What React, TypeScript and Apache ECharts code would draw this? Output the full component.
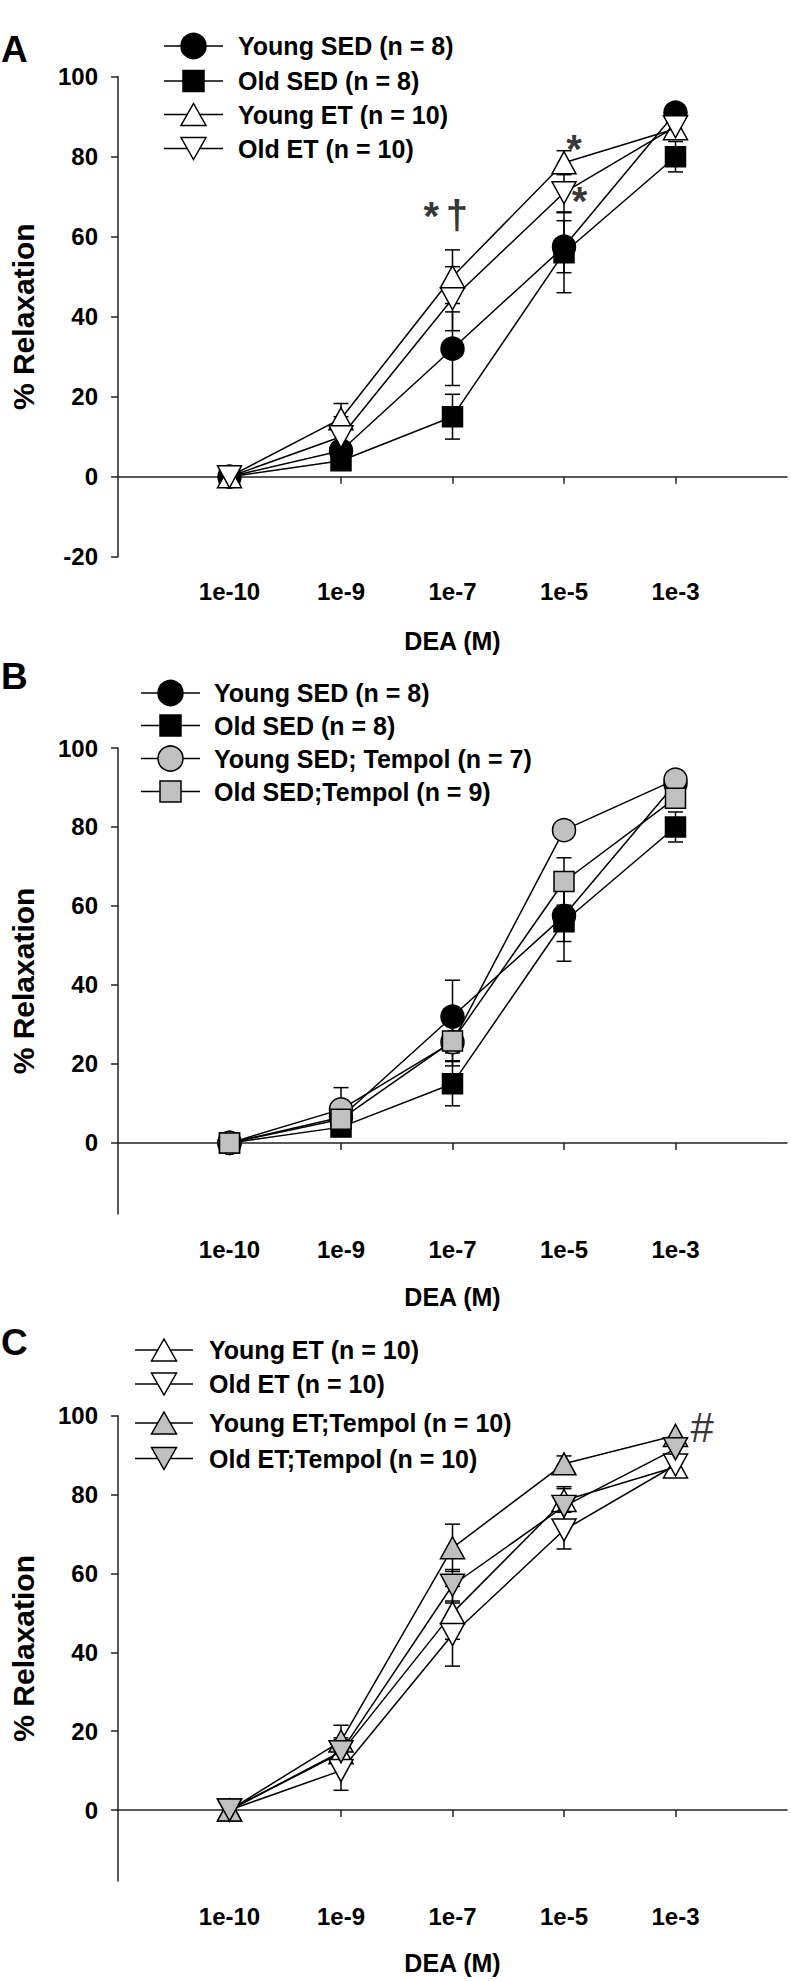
import React, { useEffect, useRef } from "react";
import * as echarts from "echarts";

// ---------- data ----------
const xLabels = ["1e-10", "1e-9", "1e-7", "1e-5", "1e-3"];
const xPositions = [1, 2, 3, 4, 5];
const yTicksA = [-20, 0, 20, 40, 60, 80, 100];
const yTicksBC = [0, 20, 40, 60, 80, 100];

const youngSED = [0, 6.5, 32, 57.5, 91];
const youngSEDErr = [0.8, 2, 9.2, 6.5, 2];
const oldSED = [0, 4, 15, 56, 80];
const oldSEDErr = [0.8, 1.5, 5.6, 10, 3.8];
const youngET = [0, 14.5, 50, 78.5, 87];
const youngETErr = [0.8, 3.8, 6.7, 3, 2.5];
const oldET = [0, 10, 44.5, 71, 87.5];
const oldETErr = [0.8, 5, 8, 4.8, 2.5];
const youngSEDTempol = [0, 8.5, 25.5, 79.2, 92];
const youngSEDTempolErr = [0.8, 5.5, 6, 0, 0];
const oldSEDTempol = [0, 6, 25.8, 66.2, 87.3];
const oldSEDTempolErr = [0.8, 2, 5, 6, 2.5];
const youngETTempol = [0, 17.5, 66.5, 87.8, 95];
const youngETTempolErr = [0.8, 4, 6, 2, 0];
const oldETTempol = [0, 14.8, 57, 77, 91.6];
const oldETTempolErr = [0.8, 3, 4, 5, 1.5];

const annotationsA = [
  { x: 2.81, y: 67.5, text: "*" },
  { x: 3.04, y: 64.7, text: "†" },
  { x: 4.09, y: 84.2, text: "*" },
  { x: 4.14, y: 71.3, text: "*" },
];
const annotationsC = [{ x: 5.24, y: 96.9, text: "#" }];

// ---------- styles ----------
const FONT = '"Liberation Sans", Arial, Helvetica, sans-serif';
const GRAY = "#c0c0c0";

type SeriesDef = {
  name: string;
  values: number[];
  errs: number[];
  symbol: "circle" | "rect" | "up" | "down";
  fill: string;
};

const panels: { letter: string; series: SeriesDef[] }[] = [
  {
    letter: "A",
    series: [
      { name: "Young SED (n = 8)", values: youngSED, errs: youngSEDErr, symbol: "circle", fill: "#000" },
      { name: "Old SED (n = 8)", values: oldSED, errs: oldSEDErr, symbol: "rect", fill: "#000" },
      { name: "Young ET (n = 10)", values: youngET, errs: youngETErr, symbol: "up", fill: "#fff" },
      { name: "Old ET (n = 10)", values: oldET, errs: oldETErr, symbol: "down", fill: "#fff" },
    ],
  },
  {
    letter: "B",
    series: [
      { name: "Young SED (n = 8)", values: youngSED, errs: youngSEDErr, symbol: "circle", fill: "#000" },
      { name: "Old SED (n = 8)", values: oldSED, errs: oldSEDErr, symbol: "rect", fill: "#000" },
      { name: "Young SED; Tempol (n = 7)", values: youngSEDTempol, errs: youngSEDTempolErr, symbol: "circle", fill: GRAY },
      { name: "Old SED;Tempol (n = 9)", values: oldSEDTempol, errs: oldSEDTempolErr, symbol: "rect", fill: GRAY },
    ],
  },
  {
    letter: "C",
    series: [
      { name: "Young ET (n = 10)", values: youngET, errs: youngETErr, symbol: "up", fill: "#fff" },
      { name: "Old ET (n = 10)", values: oldET, errs: oldETErr, symbol: "down", fill: "#fff" },
      { name: "Young ET;Tempol (n = 10)", values: youngETTempol, errs: youngETTempolErr, symbol: "up", fill: GRAY },
      { name: "Old ET;Tempol (n = 10)", values: oldETTempol, errs: oldETTempolErr, symbol: "down", fill: GRAY },
    ],
  },
];

// layout (pixels)
const grids = [
  { left: 118, top: 76.7, width: 669, height: 480 },
  { left: 118, top: 748, width: 669, height: 466 },
  { left: 118, top: 1415.7, width: 669, height: 465.3 },
];
const yMins = [-20, -18, -18];
const xNameGaps = [72, 70, 69];
const letterY = [49, 676.5, 1342.5];
const legendLayout = [
  { rows: [46, 81, 114.5, 148.5], x1: 164, x2: 223, cx: 193.5, tx: 238 },
  { rows: [693, 725.5, 758.5, 791.5], x1: 141, x2: 200, cx: 170.5, tx: 214 },
  { rows: [1350, 1384, 1423, 1458.5], x1: 135, x2: 193, cx: 164, tx: 209 },
];

function echartsSymbol(s: SeriesDef["symbol"]) {
  if (s === "circle") return { symbol: "circle", symbolSize: 23, symbolRotate: 0 };
  if (s === "rect") return { symbol: "rect", symbolSize: 20, symbolRotate: 0 };
  if (s === "up") return { symbol: "triangle", symbolSize: [24, 22], symbolRotate: 0 };
  return { symbol: "triangle", symbolSize: [24, 22], symbolRotate: 180 };
}

function legendMarker(s: SeriesDef["symbol"], cx: number, cy: number, fill: string) {
  const style = { fill, stroke: "#000", lineWidth: 1.5 };
  if (s === "circle") return { type: "circle", shape: { cx, cy, r: 12.5 }, style, z: 10 };
  if (s === "rect") return { type: "rect", shape: { x: cx - 10.5, y: cy - 10.5, width: 21, height: 21 }, style, z: 10 };
  if (s === "up")
    return {
      type: "polygon",
      shape: { points: [[cx, cy - 11], [cx + 12.5, cy + 11], [cx - 12.5, cy + 11]] },
      style,
      z: 10,
    };
  return {
    type: "polygon",
    shape: { points: [[cx, cy + 11], [cx + 12.5, cy - 11], [cx - 12.5, cy - 11]] },
    style,
    z: 10,
  };
}

function annotationOffset(t: string) {
  if (t === "*") return [0, 9];
  if (t === "†") return [0, -3];
  return [0, 0];
}

export default function App() {
  const ref = useRef<HTMLDivElement>(null);

  useEffect(() => {
    document.body.style.margin = "0";
    if (!ref.current) return;
    const chart = echarts.init(ref.current, undefined, { renderer: "svg" });

    const xAxis: any[] = [];
    const yAxis: any[] = [];
    const series: any[] = [];
    const graphic: any[] = [];

    panels.forEach((p, i) => {
      xAxis.push({
        type: "value",
        gridIndex: i,
        min: 0,
        max: 6,
        interval: 1,
        name: "DEA (M)",
        nameLocation: "middle",
        nameGap: xNameGaps[i],
        nameTextStyle: { fontFamily: FONT, fontWeight: "bold", fontSize: 25, color: "#000" },
        axisLine: { show: true, lineStyle: { color: "#222", width: 1.5 } },
        axisTick: {
          show: true,
          inside: false,
          length: 7,
          customValues: xPositions,
          lineStyle: { color: "#222", width: 1.5 },
        },
        axisLabel: {
          show: true,
          margin: 23,
          customValues: xPositions,
          formatter: (v: number) => xLabels[xPositions.indexOf(v)] ?? "",
          fontFamily: FONT,
          fontWeight: "bold",
          fontSize: 24,
          color: "#000",
        },
        splitLine: { show: false },
      });
      const yTicks = i === 0 ? yTicksA : yTicksBC;
      yAxis.push({
        type: "value",
        gridIndex: i,
        min: yMins[i],
        max: 100,
        name: "% Relaxation",
        nameLocation: "middle",
        nameGap: 80,
        nameTextStyle: { fontFamily: FONT, fontWeight: "bold", fontSize: 30, color: "#000" },
        axisLine: { show: true, lineStyle: { color: "#222", width: 1.5 } },
        axisTick: {
          show: true,
          inside: false,
          length: 7,
          customValues: yTicks,
          lineStyle: { color: "#222", width: 1.5 },
        },
        axisLabel: {
          show: true,
          margin: 20,
          customValues: yTicks,
          fontFamily: FONT,
          fontWeight: "bold",
          fontSize: 24,
          color: "#000",
        },
        splitLine: { show: false },
      });

      // error bars
      p.series.forEach((s, k) => {
        series.push({
          type: "custom",
          xAxisIndex: i,
          yAxisIndex: i,
          silent: true,
          z: 2 + k * 0.01,
          data: xPositions.map((x, j) => [x, s.values[j], s.errs[j]]),
          encode: { x: 0, y: 1 },
          renderItem: (params: any, api: any) => {
            const x = api.value(0);
            const y = api.value(1);
            const e = api.value(2);
            if (!e) return { type: "group", children: [] };
            const top = api.coord([x, y + e]);
            const bot = api.coord([x, y - e]);
            const hw = 7.5;
            const st = { stroke: "#000", lineWidth: 1.5 };
            return {
              type: "group",
              children: [
                { type: "line", shape: { x1: top[0], y1: top[1], x2: bot[0], y2: bot[1] }, style: st },
                { type: "line", shape: { x1: top[0] - hw, y1: top[1], x2: top[0] + hw, y2: top[1] }, style: st },
                { type: "line", shape: { x1: bot[0] - hw, y1: bot[1], x2: bot[0] + hw, y2: bot[1] }, style: st },
              ],
            };
          },
        });
      });

      // lines + markers
      p.series.forEach((s, k) => {
        const sym = echartsSymbol(s.symbol);
        series.push({
          type: "line",
          name: s.name,
          xAxisIndex: i,
          yAxisIndex: i,
          silent: true,
          z: 3 + k,
          showAllSymbol: true,
          ...sym,
          data: xPositions.map((x, j) => [x, s.values[j]]),
          lineStyle: { color: "#000", width: 1.5 },
          itemStyle: { color: s.fill, borderColor: "#000", borderWidth: 1.5, opacity: 1 },
        });
      });

      // legend (drawn)
      const L = legendLayout[i];
      p.series.forEach((s, k) => {
        const cy = L.rows[k];
        graphic.push({
          type: "line",
          shape: { x1: L.x1, y1: cy, x2: L.x2, y2: cy },
          style: { stroke: "#000", lineWidth: 1.5 },
          z: 9,
        });
        graphic.push(legendMarker(s.symbol, L.cx, cy, s.fill));
        graphic.push({
          type: "text",
          x: L.tx,
          y: cy,
          z: 10,
          style: {
            text: s.name,
            fontFamily: FONT,
            fontWeight: "bold",
            fontSize: 25,
            fill: "#000",
            verticalAlign: "middle",
            align: "left",
          },
        });
      });

      graphic.push({
        type: "text",
        x: 1,
        y: letterY[i],
        z: 10,
        style: {
          text: p.letter,
          fontFamily: FONT,
          fontWeight: "bold",
          fontSize: 37,
          fill: "#000",
          verticalAlign: "middle",
          align: "left",
        },
      });
    });

    const annots = [
      { idx: 0, list: annotationsA },
      { idx: 2, list: annotationsC },
    ];
    annots.forEach(({ idx, list }) => {
      series.push({
        type: "scatter",
        xAxisIndex: idx,
        yAxisIndex: idx,
        silent: true,
        z: 20,
        symbolSize: 1,
        itemStyle: { color: "rgba(0,0,0,0)" },
        data: list.map((a) => ({
          value: [a.x, a.y],
          label: {
            show: true,
            position: "inside",
            formatter: a.text,
            offset: annotationOffset(a.text),
            fontFamily: FONT,
            fontWeight: a.text === "#" ? "normal" : "bold",
            fontSize: a.text === "#" ? 42 : 40,
            color: "#000",
          },
        })),
      });
    });

    chart.setOption({
      animation: false,
      backgroundColor: "#fff",
      grid: grids.map((g) => ({ ...g, containLabel: false })),
      xAxis,
      yAxis,
      series,
      graphic,
    });

    return () => chart.dispose();
  }, []);

  return <div ref={ref} style={{ width: 791, height: 1981 }} />;
}
